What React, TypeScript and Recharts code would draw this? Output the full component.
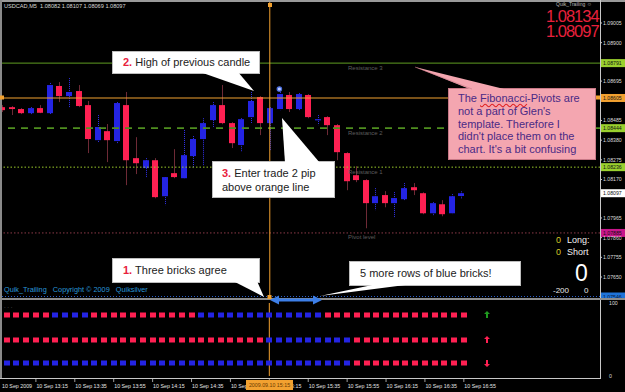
import React from "react";
import { ComposedChart, Bar, Scatter, XAxis, YAxis, ReferenceLine } from "recharts";

const FONT = "'Liberation Sans', Arial, sans-serif";

// ---- price data (M5 candles, USDCAD) ----
const opens = [1.08556, 1.08556, 1.08546, 1.08524, 1.08551, 1.08524, 1.08669, 1.08615, 1.08642, 1.08567, 1.0838, 1.08428, 1.08375, 1.08567, 1.08284, 1.08231, 1.08273, 1.08081, 1.08204, 1.08177, 1.08295, 1.08386, 1.08487, 1.08567, 1.08471, 1.08354, 1.08503, 1.0861, 1.08471, 1.08546, 1.08621, 1.08546, 1.08621, 1.08487, 1.08503, 1.0846, 1.08311, 1.08193, 1.08167, 1.08044, 1.08087, 1.08044, 1.08065, 1.08129, 1.08097, 1.0799, 1.08038, 1.0799, 1.08082];
const highs = [1.08567, 1.08562, 1.08551, 1.08556, 1.08567, 1.08685, 1.0869, 1.08711, 1.08674, 1.08589, 1.08514, 1.08466, 1.08583, 1.08637, 1.08396, 1.08284, 1.08284, 1.08183, 1.08332, 1.08434, 1.08402, 1.08497, 1.08583, 1.08674, 1.08476, 1.08497, 1.08637, 1.08615, 1.08556, 1.08637, 1.08637, 1.08631, 1.08626, 1.08514, 1.08508, 1.08466, 1.08316, 1.08241, 1.08172, 1.08124, 1.08108, 1.08103, 1.08151, 1.08151, 1.08102, 1.08049, 1.0806, 1.08092, 1.08107];
const lows = [1.0853, 1.08514, 1.08519, 1.08519, 1.08524, 1.08519, 1.08583, 1.08551, 1.08556, 1.08311, 1.0837, 1.08263, 1.08359, 1.0814, 1.08199, 1.08183, 1.0807, 1.08033, 1.08177, 1.08177, 1.08231, 1.08247, 1.0845, 1.08465, 1.08338, 1.08316, 1.08471, 1.08407, 1.08327, 1.0854, 1.0853, 1.0854, 1.08497, 1.0846, 1.08407, 1.08273, 1.08113, 1.08156, 1.0791, 1.08006, 1.08022, 1.07969, 1.0806, 1.08087, 1.07985, 1.0798, 1.07974, 1.07985, 1.08069];
const closes = [1.0854, 1.08546, 1.08524, 1.08551, 1.08526, 1.08674, 1.08615, 1.08637, 1.08562, 1.08386, 1.0845, 1.0838, 1.08578, 1.08273, 1.08257, 1.08273, 1.08076, 1.08183, 1.08183, 1.083, 1.08386, 1.08471, 1.08567, 1.08471, 1.08364, 1.08492, 1.08589, 1.08471, 1.08551, 1.08626, 1.08546, 1.08626, 1.08503, 1.08492, 1.0846, 1.08316, 1.08161, 1.08167, 1.08044, 1.08081, 1.08044, 1.08071, 1.08124, 1.08113, 1.0799, 1.08044, 1.07985, 1.08081, 1.08097];

// ---- Quik_Trailing bricks (R = red, B = blue) ----
const brickRow1 = "RRRRRR" + "BBBB" + "RRRRRRRRRR" + "R" + "BBBBBBBBBB" + "BBB" + "RRRRRRRRRR" + "RRRRR";
const brickRow2 = "B" + "RRRRRRRRRR" + "RRRRRRRRRR" + "RRRRRRR" + "BBBBBBBBB" + "RRRRRRRRRR" + "RR";
const brickRow3 = "BBBBBBBBBB" + "BBBBBBBBBB" + "BBBBBBBBBB" + "BBBBBBB" + "RRRRRRRRRR" + "RR";
const rowLevels = [84, 50, 18];
const signalBar = 50;
const signalDirs = ["up", "up", "down"];
const signalColors = ["#1f9a1f", "#ff2052", "#ff2052"];

// ---- axis labels ----
const timeLabels = ["10 Sep 2009", "10 Sep 13:15", "10 Sep 13:35", "10 Sep 13:55", "10 Sep 14:15", "10 Sep 14:35", "10 Sep 14:55", "10 Sep 15:15", "10 Sep 15:35", "10 Sep 15:55", "10 Sep 16:15", "10 Sep 16:35", "10 Sep 16:55"];
const timeLabelBars = [0, 4, 8, 12, 16, 20, 24, 28, 32, 36, 40, 44, 48];
const priceTicks = [1.09005, 1.089, 1.08695, 1.08485, 1.0838, 1.08275, 1.0817, 1.07965, 1.0786, 1.07755, 1.0765];
const priceDomain = [1.07538, 1.09117];

// ---- levels ----
const r3Level = 1.08791;
const orangeLevel = 1.08605;
const r2Level = 1.08444;
const r1Level = 1.08236;
const pivotLevel = 1.07885;
const bidLevel = 1.08097;
const blueLevel = 1.07546;
const crossBar = 28;
const markerBar = 29;
const markerPrice = 1.08653;

const SLOTS = 63;
const RED = "#ff2052";
const BLUE = "#2424e4";
const RED_WICK = "#6e2a36";
const BLUE_WICK = "#3030e8";
const ORANGE = "#f2a130";

const data = Array.from({ length: SLOTS }, (_, i) => {
  const has = i < opens.length;
  return {
    i,
    o: has ? opens[i] : null,
    h: has ? highs[i] : null,
    l: has ? lows[i] : null,
    c: has ? closes[i] : null,
    range: has ? [lows[i], highs[i]] : null,
    r1: has ? rowLevels[0] : null,
    r2: has ? rowLevels[1] : null,
    r3: has ? rowLevels[2] : null,
    k1: has ? brickRow1[i] : null,
    k2: has ? brickRow2[i] : null,
    k3: has ? brickRow3[i] : null,
    s1: i === signalBar ? rowLevels[0] : null,
    s2: i === signalBar ? rowLevels[1] : null,
    s3: i === signalBar ? rowLevels[2] : null,
    mark: i === markerBar ? markerPrice : null,
  };
});

const Candle = (props: any) => {
  const { x, y, width, height, payload } = props;
  if (!payload || payload.o == null || !isFinite(y) || !isFinite(height)) return <g />;
  const { o, h, l, c } = payload;
  const top = Math.min(y, y + height);
  const hh = Math.abs(height);
  const span = h - l;
  const ratio = span > 0 ? hh / span : 0;
  const yOf = (p: number) => top + (h - p) * ratio;
  const up = c >= o;
  const bTop = yOf(Math.max(o, c));
  const bBot = yOf(Math.min(o, c));
  const cx = Math.round(x + width / 2) + 0.5;
  const bx = Math.round(x);
  return (
    <g>
      <line x1={cx} x2={cx} y1={top} y2={top + hh} stroke={up ? BLUE_WICK : RED_WICK} strokeWidth={1} strokeDasharray={up ? "1 1" : undefined} />
      <rect x={bx} y={bTop} width={width} height={Math.max(1.2, bBot - bTop)} fill={up ? BLUE : RED} />
    </g>
  );
};

const makeBrick = (key: string) => (props: any) => {
  const { cx, cy, payload } = props;
  const k = payload ? payload[key] : null;
  if (!k || !isFinite(cx) || !isFinite(cy)) return <g />;
  return <rect x={Math.round(cx) - 3} y={Math.round(cy) - 2.5} width={6} height={5} fill={k === "R" ? RED : BLUE} />;
};

const makeSignal = (row: number) => (props: any) => {
  const { cx, cy } = props;
  if (!isFinite(cx) || !isFinite(cy)) return <g />;
  const col = signalColors[row];
  const x = Math.round(cx) + 4;
  const y = Math.round(cy);
  if (signalDirs[row] === "up") {
    return <path d={`M${x} ${y - 4} L${x + 3} ${y - 1} L${x + 1} ${y - 1} L${x + 1} ${y + 3} L${x - 1} ${y + 3} L${x - 1} ${y - 1} L${x - 3} ${y - 1} Z`} fill={col} />;
  }
  return <path d={`M${x} ${y + 4} L${x + 3} ${y + 1} L${x + 1} ${y + 1} L${x + 1} ${y - 3} L${x - 1} ${y - 3} L${x - 1} ${y + 1} L${x - 3} ${y + 1} Z`} fill={col} />;
};

const MarkerDot = (props: any) => {
  const { cx, cy, payload } = props;
  if (!payload || payload.mark == null || !isFinite(cy)) return <g />;
  return <circle cx={cx} cy={cy} r={2.2} fill="#b8c8ff" stroke="#4a6ee0" strokeWidth={1.2} />;
};

const PriceTick = (props: any) => {
  const { x, y, payload } = props;
  return (
    <text x={x} y={y} dy={1.9} fontSize={5.2} fill="#dcdcdc" fontFamily={FONT} textAnchor="start">
      {Number(payload.value).toFixed(5)}
    </text>
  );
};

const SubTick = (props: any) => {
  const { x, y, payload } = props;
  return (
    <text x={x} y={y} dy={1.9} fontSize={5.2} fill="#dcdcdc" fontFamily={FONT} textAnchor="start">
      {payload.value}
    </text>
  );
};

const TimeTick = (props: any) => {
  const { x, payload } = props;
  const idx = timeLabelBars.indexOf(Number(payload.value));
  if (idx < 0) return <g />;
  const tx = Math.max(x + 0.5, 5);
  return (
    <g>
      <line x1={x} x2={x} y1={80} y2={84} stroke="#c8c8c8" strokeWidth={0.8} />
      <text x={tx} y={89.5} fontSize={5.3} fill="#e4e4e4" fontFamily={FONT} textAnchor="start">
        {timeLabels[idx]}
      </text>
    </g>
  );
};

const tag = (text: string, bg: string, fg: string, name?: string, nameDy?: number) => (props: any) => {
  const vb = props.viewBox || {};
  const y = vb.y;
  const right = vb.x + vb.width;
  if (!isFinite(y)) return <g />;
  return (
    <g>
      {name ? (
        <text x={351} y={y + (nameDy || 6)} fontSize={6} fill="#5e5e5e" fontFamily={FONT}>
          {name}
        </text>
      ) : null}
      <rect x={right + 1} y={y - 4} width={25} height={8} fill={bg} />
      <text x={right + 3} y={y + 2} fontSize={5.2} fill={fg} fontFamily={FONT}>
        {text}
      </text>
    </g>
  );
};

const abs = (l: number, t: number, extra: React.CSSProperties = {}): React.CSSProperties => ({
  position: "absolute",
  left: l,
  top: t,
  whiteSpace: "nowrap",
  fontFamily: FONT,
  lineHeight: 1,
  ...extra,
});

const calloutBox: React.CSSProperties = {
  position: "absolute",
  background: "#ffffff",
  border: "1px solid #bdbdbd",
  boxSizing: "border-box",
  fontFamily: FONT,
  fontSize: 11,
  color: "#222",
  whiteSpace: "nowrap",
};

export default function App() {
  return (
    <div style={{ position: "absolute", left: 0, top: 0, width: 625, height: 392, background: "#000", overflow: "hidden", fontFamily: FONT }}>
      {/* main price window */}
      <div style={{ position: "absolute", left: -3, top: 0 }}>
        <ComposedChart width={628} height={300} data={data} margin={{ top: 2, right: 0, bottom: 2, left: 0 }}>
          <XAxis dataKey="i" type="category" hide />
          <YAxis
            orientation="right"
            type="number"
            width={25}
            domain={priceDomain}
            allowDataOverflow
            ticks={priceTicks}
            interval={0}
            axisLine={false}
            tickLine={{ stroke: "#c8c8c8" }}
            tickSize={2}
            tickMargin={1}
            tick={PriceTick}
          />
          <ReferenceLine y={r3Level} stroke="#5f9e22" strokeWidth={1} label={tag("1.08791", "#9ad02e", "#111", "Resistance 3", 6.5)} />
          <ReferenceLine y={r2Level} stroke="#4f8f1f" strokeWidth={1.6} strokeDasharray="7 6" label={tag("1.08444", "#9ad02e", "#111", "Resistance 2", 6.5)} />
          <ReferenceLine y={r1Level} stroke="#9ccc2a" strokeWidth={1} strokeDasharray="1.5 2" label={tag(r1Level.toFixed(5), "#9ad02e", "#111", "Resistance 1", 7)} />
          <ReferenceLine y={pivotLevel} stroke="#8b3a48" strokeWidth={1} strokeDasharray="1.5 2" label={tag(pivotLevel.toFixed(5), "#c8168a", "#111", "Pivot level", 6.5)} />
          <ReferenceLine y={blueLevel} stroke="#2a5fc8" strokeWidth={1} strokeDasharray="1 2" label={tag("1.07546", "#1e73d8", "#0a1a40")} />
          <ReferenceLine y={bidLevel} stroke="none" label={tag("1.08097", "#ffffff", "#111")} />
          <Bar dataKey="range" barSize={6} shape={Candle} isAnimationActive={false} />
          <ReferenceLine y={orangeLevel} stroke={ORANGE} strokeWidth={1.2} label={tag("1.08605", ORANGE, "#111")} />
          <ReferenceLine x={crossBar} stroke={ORANGE} strokeWidth={1} />
          <Scatter dataKey="mark" shape={MarkerDot} isAnimationActive={false} />
        </ComposedChart>
      </div>

      {/* indicator window + time axis */}
      <div style={{ position: "absolute", left: -3, top: 298 }}>
        <ComposedChart width={628} height={94} data={data} margin={{ top: 5, right: 0, bottom: 0, left: 0 }}>
          <XAxis dataKey="i" type="category" interval={0} height={16} axisLine={false} tickLine={false} tick={TimeTick} />
          <YAxis orientation="right" type="number" width={25} domain={[0, 100]} allowDataOverflow ticks={[0, 100]} interval={0} axisLine={false} tickLine={false} tickMargin={3} tick={SubTick} />
          <ReferenceLine x={crossBar} stroke={ORANGE} strokeWidth={1} />
          <Scatter dataKey="r1" shape={makeBrick("k1")} isAnimationActive={false} />
          <Scatter dataKey="r2" shape={makeBrick("k2")} isAnimationActive={false} />
          <Scatter dataKey="r3" shape={makeBrick("k3")} isAnimationActive={false} />
          <Scatter dataKey="s1" shape={makeSignal(0)} isAnimationActive={false} />
          <Scatter dataKey="s2" shape={makeSignal(1)} isAnimationActive={false} />
          <Scatter dataKey="s3" shape={makeSignal(2)} isAnimationActive={false} />
        </ComposedChart>
      </div>

      {/* frame lines */}
      <div style={{ position: "absolute", left: 0, top: 0, width: 625, height: 2, background: "#9a9a9a" }} />
      <div style={{ position: "absolute", left: 0, top: 0, width: 2, height: 379, background: "#8a8a8a" }} />
      <div style={{ position: "absolute", left: 600, top: 0, width: 1, height: 379, background: "#c8c8c8" }} />
      <div style={{ position: "absolute", left: 0, top: 298, width: 625, height: 2, background: "#8c8c8c" }} />
      <div style={{ position: "absolute", left: 0, top: 378, width: 601, height: 1, background: "#c8c8c8" }} />

      {/* texts */}
      <div style={abs(4, 4, { fontSize: 5.6, color: "#d8d8d8" })}>USDCAD,M5&nbsp;&nbsp;1.08082 1.08107 1.08069 1.08097</div>
      <div style={abs(556, 2, { fontSize: 5, color: "#b8b8b8" })}>Quik_Trailing ☺</div>
      <div style={abs(546, 10, { fontSize: 16.5, lineHeight: "13px", color: "#e8203c", letterSpacing: -1 })}>1.08134</div>
      <div style={abs(546, 25, { fontSize: 16.5, lineHeight: "13px", color: "#e8203c", letterSpacing: -1 })}>1.08097</div>
      <div style={abs(556, 236, { fontSize: 9, color: "#d8c828" })}>0</div>
      <div style={abs(567, 236, { fontSize: 9, color: "#f0f0f0" })}>Long:</div>
      <div style={abs(556, 248, { fontSize: 9, color: "#d8c828" })}>0</div>
      <div style={abs(567, 248, { fontSize: 9, color: "#f0f0f0" })}>Short</div>
      <div style={abs(575, 262, { fontSize: 23, color: "#ffffff" })}>0</div>
      <div style={abs(553, 287, { fontSize: 8, color: "#e8e8e8" })}>-200</div>
      <div style={abs(584, 287, { fontSize: 8, color: "#e8e8e8" })}>0</div>
      <div style={abs(4, 286, { fontSize: 7.3, color: "#2a98d8" })}>Quik_Trailing&nbsp;&nbsp;&nbsp;Copyright © 2009&nbsp;&nbsp;&nbsp;Quiksilver</div>
      <div style={abs(4, 303, { fontSize: 6, color: "#707070" })}>. . .</div>
      <div style={abs(246, 380, { width: 47, height: 10, background: ORANGE, fontSize: 5.3, color: "#6b3a00", textAlign: "center", lineHeight: "10px" })}>2009.09.10 15:15</div>

      {/* callouts */}
      <div style={{ ...calloutBox, left: 112, top: 51, width: 148, height: 23, paddingLeft: 10, lineHeight: "21px" }}>
        <b style={{ color: "#e8203c" }}>2.</b> High of previous candle
      </div>
      <div style={{ ...calloutBox, left: 212, top: 161, width: 123, height: 37, paddingLeft: 9, paddingTop: 4, lineHeight: "14px" }}>
        <div>
          <b style={{ color: "#e8203c" }}>3.</b> Enter trade 2 pip
        </div>
        <div>above orange line</div>
      </div>
      <div style={{ ...calloutBox, left: 112, top: 258, width: 148, height: 25, paddingLeft: 10, lineHeight: "23px" }}>
        <b style={{ color: "#e8203c" }}>1.</b> Three bricks agree
      </div>
      <div style={{ ...calloutBox, left: 349, top: 261, width: 172, height: 25, paddingLeft: 10, lineHeight: "23px" }}>5 more rows of blue bricks!</div>
      <div
        style={{
          position: "absolute",
          left: 448,
          top: 88,
          width: 148,
          height: 72,
          background: "#f4a6b0",
          border: "1px solid #c87886",
          boxSizing: "border-box",
          paddingLeft: 9,
          paddingTop: 3,
          fontFamily: FONT,
          fontSize: 11,
          lineHeight: "12.8px",
          color: "#4a2a86",
          whiteSpace: "nowrap",
        }}
      >
        <div>
          The <span style={{ textDecoration: "underline wavy #e02020" }}>Fibonacci</span>-Pivots are
        </div>
        <div>not a part of Glen's</div>
        <div>template. Therefore I</div>
        <div>didn't place them on the</div>
        <div>chart. It's a bit confusing</div>
      </div>

      {/* pointers, arrow, handles */}
      <svg width={625} height={392} style={{ position: "absolute", left: 0, top: 0, pointerEvents: "none" }}>
        <polygon points="200,72 238,72 254,91" fill="#ffffff" />
        <polygon points="282,118 285,163 320,163" fill="#ffffff" />
        <polygon points="233,281 257,281 264,297" fill="#ffffff" />
        <polygon points="320,296 377,284 413,284" fill="#ffffff" />
        <polygon points="415,67 472,90 508,90" fill="#f4a6b0" />
        <line x1={415} y1={67} x2={472} y2={89} stroke="#c87886" strokeWidth={0.6} />
        <polygon
          points="270,300 279,295.5 279,298.5 313,298.5 313,295.5 322,300 313,304.5 313,301.5 279,301.5 279,304.5"
          fill="#3d7fe8"
        />
        <rect x={0} y={95.5} width={4} height={4} fill={ORANGE} />
        <rect x={596} y={95.5} width={4} height={4} fill={ORANGE} />
        <rect x={268} y={3} width={4} height={4} fill={ORANGE} />
        <rect x={267.5} y={295} width={4} height={4} fill={ORANGE} />
      </svg>
    </div>
  );
}
